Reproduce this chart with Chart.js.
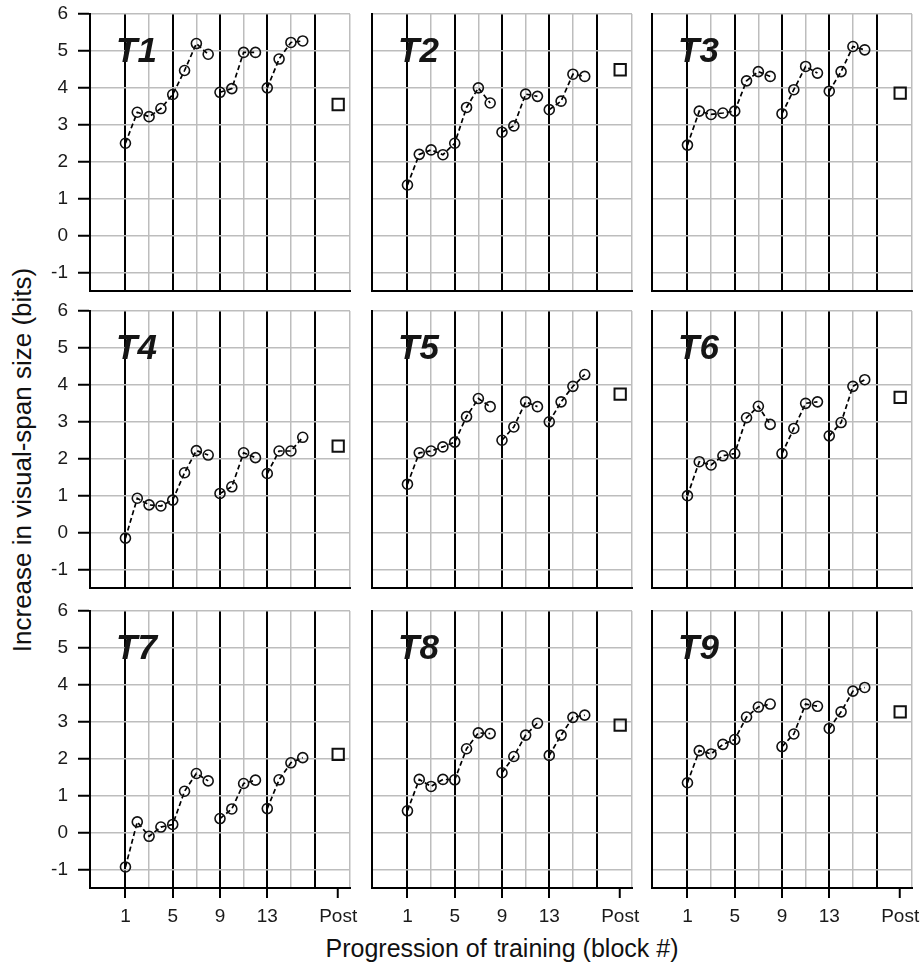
<!DOCTYPE html>
<html>
<head>
  <title>Visual-span training</title>
  <script src="https://cdn.jsdelivr.net/npm/chart.js"></script>
  <style>
    body { margin: 0; background: #fff; }
    .figure {
      position: relative;
      width: 920px;
      height: 964px;
      font-family: "Liberation Sans", Arial, sans-serif;
      color: #111;
    }
    .panel { position: absolute; }
    .y-title {
      position: absolute;
      left: 22px;
      top: 460px;
      transform: translate(-50%, -50%) rotate(-90deg);
      font-size: 26px;
      white-space: nowrap;
    }
    .x-title {
      position: absolute;
      left: 502px;
      top: 948px;
      transform: translate(-50%, -50%);
      font-size: 25px;
      white-space: nowrap;
    }
  </style>
</head>
<body>
  <div class="figure" id="figure">
    <div class="y-title">Increase in visual-span size (bits)</div>
    <div class="x-title">Progression of training (block #)</div>
  </div>

  <script>
    // block numbers and values
    const blocks = [1, 2, 3, 4, 5, 6, 7, 8, 9, 10, 11, 12, 13, 14, 15, 16];
    const t1 = [2.5, 3.34, 3.22, 3.44, 3.82, 4.47, 5.2, 4.91, 3.88, 3.98, 4.96, 4.96, 4.0, 4.78, 5.23, 5.27];
    const t2 = [1.37, 2.2, 2.32, 2.19, 2.5, 3.47, 4.0, 3.59, 2.8, 2.97, 3.83, 3.77, 3.41, 3.64, 4.37, 4.31];
    const t3 = [2.45, 3.37, 3.28, 3.32, 3.37, 4.19, 4.44, 4.31, 3.3, 3.95, 4.58, 4.4, 3.91, 4.44, 5.12, 5.03];
    const t4 = [-0.15, 0.93, 0.75, 0.72, 0.88, 1.62, 2.22, 2.1, 1.06, 1.24, 2.16, 2.03, 1.6, 2.21, 2.21, 2.58];
    const t5 = [1.31, 2.16, 2.21, 2.32, 2.45, 3.14, 3.63, 3.41, 2.5, 2.86, 3.54, 3.41, 3.0, 3.54, 3.96, 4.28];
    const t6 = [1.0, 1.92, 1.83, 2.08, 2.14, 3.11, 3.42, 2.93, 2.14, 2.82, 3.5, 3.54, 2.62, 2.98, 3.96, 4.14];
    const t7 = [-0.93, 0.29, -0.1, 0.15, 0.22, 1.12, 1.6, 1.4, 0.38, 0.64, 1.33, 1.42, 0.65, 1.43, 1.89, 2.03];
    const t8 = [0.59, 1.44, 1.25, 1.44, 1.43, 2.27, 2.7, 2.68, 1.62, 2.06, 2.64, 2.96, 2.09, 2.64, 3.12, 3.18];
    const t9 = [1.35, 2.22, 2.13, 2.39, 2.52, 3.13, 3.4, 3.48, 2.33, 2.67, 3.48, 3.42, 2.82, 3.27, 3.83, 3.93];
    const postValues = [3.55, 4.49, 3.86, 2.34, 3.75, 3.66, 2.12, 2.91, 3.27];
    const panelNames = ['T1', 'T2', 'T3', 'T4', 'T5', 'T6', 'T7', 'T8', 'T9'];
    const postBlock = 19;

    const xTickValues = [1, 5, 9, 13, 19];
    const xTickLabels = ['1', '5', '9', '13', 'Post'];
    const yTickValues = [-1, 0, 1, 2, 3, 4, 5, 6];
    const sessionLines = [1, 5, 9, 13, 17];
    const xGridValues = [1, 3, 5, 7, 9, 11, 13, 15, 17, 19, 20];
    const lineBreakAfter = [8, 12];

    const allSeries = [t1, t2, t3, t4, t5, t6, t7, t8, t9];

    // panel placement (plot area corners in page pixels)
    const colLeft = [90, 372, 652];
    const rowTop = [14, 311, 611];
    const plotW = 260, plotH = 277;
    const padL = 90, padT = 10, padR = 10, padB = 50;

    const gridGray = '#bdbdbd';
    const none = 'rgba(0,0,0,0)';

    Chart.defaults.font.family = '"Liberation Sans", Arial, sans-serif';
    Chart.defaults.color = '#1a1a1a';

    const panelLabel = {
      id: 'panelLabel',
      afterDatasetsDraw(chart, args, opts) {
        const { ctx, chartArea } = chart;
        ctx.save();
        ctx.font = 'italic bold 35px "Liberation Sans", Arial, sans-serif';
        ctx.fillStyle = '#151515';
        ctx.textBaseline = 'alphabetic';
        ctx.fillText(opts.text, chartArea.left + 26, chartArea.top + 48);
        ctx.restore();
      }
    };

    const figure = document.getElementById('figure');

    allSeries.forEach((series, k) => {
      const row = Math.floor(k / 3), col = k % 3;
      const isLeft = col === 0, isBottom = row === 2;

      const box = document.createElement('div');
      box.className = 'panel';
      box.style.left = (colLeft[col] - padL) + 'px';
      box.style.top = (rowTop[row] - padT) + 'px';
      const canvas = document.createElement('canvas');
      canvas.width = padL + plotW + padR;
      canvas.height = padT + plotH + padB;
      box.appendChild(canvas);
      figure.appendChild(box);

      new Chart(canvas.getContext('2d'), {
        type: 'scatter',
        data: {
          datasets: [
            {
              data: blocks.map((b, i) => ({ x: b, y: series[i] })),
              showLine: true,
              borderColor: '#000',
              borderWidth: 1.7,
              borderDash: [5, 3],
              pointStyle: 'circle',
              pointRadius: 5,
              pointBorderWidth: 1.6,
              pointBackgroundColor: none,
              pointBorderColor: '#111',
              segment: {
                borderColor: c => lineBreakAfter.includes(blocks[c.p0DataIndex]) ? none : '#000'
              }
            },
            {
              data: [{ x: postBlock, y: postValues[k] }],
              showLine: false,
              pointStyle: 'rect',
              pointRadius: 8,
              pointBorderWidth: 2,
              pointBackgroundColor: none,
              pointBorderColor: '#111'
            }
          ]
        },
        options: {
          responsive: false,
          animation: false,
          layout: { padding: { left: 0, top: padT, right: padR, bottom: 0 } },
          plugins: {
            legend: { display: false },
            tooltip: { enabled: false },
            panelLabel: { text: panelNames[k] }
          },
          scales: {
            x: {
              type: 'linear',
              min: -2,
              max: 20,
              afterBuildTicks: s => { s.ticks = xGridValues.map(v => ({ value: v })); },
              afterFit: s => { s.height = padB; s.paddingLeft = 0; s.paddingRight = 0; },
              grid: {
                color: c => sessionLines.includes(c.tick.value) ? '#000' : (c.tick.value === postBlock ? none : gridGray),
                lineWidth: c => sessionLines.includes(c.tick.value) ? 2 : 1.5,
                drawTicks: isBottom,
                tickLength: 10,
                tickWidth: 2,
                tickColor: c => xTickValues.includes(c.tick.value) ? '#000' : none
              },
              border: { display: true, color: '#000', width: 2 },
              ticks: {
                display: isBottom,
                autoSkip: false,
                maxRotation: 0,
                padding: 7,
                font: { size: 19 },
                callback: v => {
                  const i = xTickValues.indexOf(v);
                  return i >= 0 ? xTickLabels[i] : '';
                }
              }
            },
            y: {
              min: -1.5,
              max: 6,
              afterBuildTicks: s => { s.ticks = yTickValues.map(v => ({ value: v })); },
              afterFit: s => { s.width = padL; s.paddingTop = 0; s.paddingBottom = 0; },
              grid: {
                color: gridGray,
                lineWidth: 1.5,
                drawTicks: isLeft,
                tickLength: 12,
                tickWidth: 2,
                tickColor: '#000'
              },
              border: { display: true, color: '#000', width: 2 },
              ticks: {
                display: isLeft,
                padding: 10,
                font: { size: 19 },
                callback: v => String(v)
              }
            }
          }
        },
        plugins: [panelLabel]
      });
    });
  </script>
</body>
</html>
